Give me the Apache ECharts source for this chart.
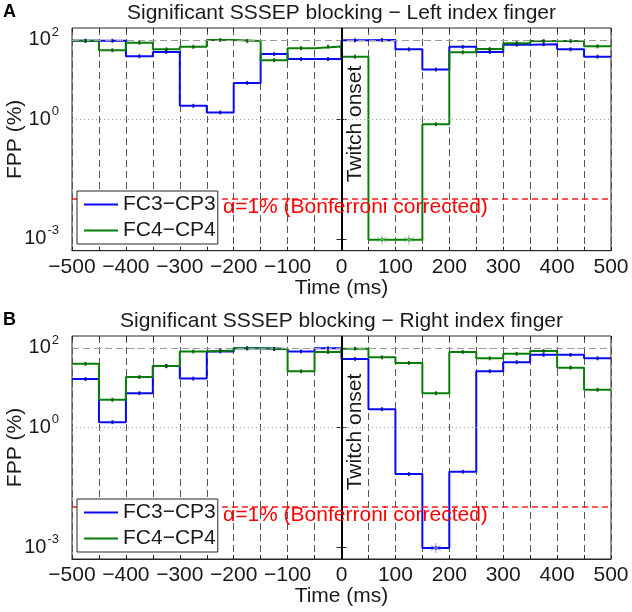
<!DOCTYPE html>
<html><head><meta charset="utf-8">
<script src="https://cdn.jsdelivr.net/npm/echarts@6/dist/echarts.min.js"></script>
<style>html,body{margin:0;padding:0;background:#fff}#c{width:632px;height:612px}</style>
</head><body><div id="c"></div>
<script>
const binCenters = [-475,-425,-375,-325,-275,-225,-175,-125,-75,-25,25,75,125,175,225,275,325,375,425,475];
const fc3Left  = [95,95,39,50,2.2,1.5,8.3,44,33,33,98,100,58,18,67,50,76,78,58,38];
const fc4Left  = [95,55,85,58,67,100,94,31,62,68,38,0.00095,0.00095,0.76,49,59,83,94,94,69];
const fc3Right = [16.5,1.37,7.3,35,17,82,98,94,82,98,53,2.9,0.068,0.00095,0.078,26,44,67,67,55];
const fc4Right = [40,5.0,18.6,35,81,86,98,94,26,79,96,58,42,7.3,79,55,71,84,32,8.9];
const alphaLevel = 0.0125;
const yTickValues = [0.001, 1, 100];
const titles = ['Significant SSSEP blocking \u2212 Left index finger','Significant SSSEP blocking \u2212 Right index finger'];
const panelLetters = ['A','B'];
const seriesNames = ['FC3\u2212CP3','FC4\u2212CP4'];
const binWidth = 50;

const FONT = 'Liberation Sans, Arial, sans-serif';
const TXT = '#1a1a1a';
const BLUE = '#0b0bf2', GREEN = '#0a7d0a';
const BLUE_LIGHT = '#7b7bff', GREEN_LIGHT = '#6fd06f';
const grids = [{left:72, width:539, top:28, height:222.7},{left:72, width:539, top:336, height:223}];

function stepData(vals){
  const d = binCenters.map((c,i)=>[c-binWidth/2, vals[i]]);
  d.push([binCenters[binCenters.length-1]+binWidth/2, vals[vals.length-1]]);
  return d;
}
function centers(vals){ return binCenters.map((c,i)=>[c, vals[i]]); }
function sig(vals){ return binCenters.map((c,i)=>[c, vals[i]]).filter(p=>p[1] < alphaLevel); }

const asterisk = 'path://M0,-5L0,5M-4.3,-2.5L4.3,2.5M-4.3,2.5L4.3,-2.5';
const tickStyle = {color:'#262626', width:1};

const xAxes = [], yAxes = [], series = [], legends = [], graphics = [];
const panels = [[fc3Left, fc4Left],[fc3Right, fc4Right]];
panels.forEach((pair, gi) => {
  xAxes.push({
    gridIndex: gi, type:'value', min:-500, max:500, interval:100, position:'bottom',
    name:'Time (ms)', nameLocation:'middle', nameGap:27, nameMoveOverlap:false,
    nameTextStyle:{fontFamily:FONT, fontSize:21, color:TXT},
    axisLine:{show:true, onZero:false, lineStyle:tickStyle},
    axisTick:{show:true, inside:true, length:4, lineStyle:tickStyle},
    minorTick:{show:true, splitNumber:2, length:4, lineStyle:tickStyle},
    axisLabel:{fontFamily:FONT, fontSize:21, color:TXT, margin:6,
      formatter: v => String(v).replace('-', '\u2212')},
    splitLine:{show:true, lineStyle:{color:'#555', type:[7,4], width:1}},
    minorSplitLine:{show:true, lineStyle:{color:'#555', type:[7,4], width:1}}
  });
  yAxes.push({
    gridIndex: gi, type:'log', logBase:10, min:Math.pow(10,-3.3), max:Math.pow(10,2.3), position:'left',
    name:'FPP (%)', nameLocation:'middle', nameGap:46, nameRotate:90, nameMoveOverlap:false,
    nameTextStyle:{fontFamily:FONT, fontSize:21, color:TXT},
    axisLine:{show:true, lineStyle:tickStyle},
    axisTick:{show:true, inside:true, length:5, customValues: yTickValues, lineStyle:tickStyle},
    axisLabel:{customValues: yTickValues, margin:13, fontFamily:FONT,
      formatter: v => '{b|10}{s|' + Math.round(Math.log10(v)) + '}',
      rich:{ b:{fontFamily:FONT, fontSize:20, color:TXT},
             s:{fontFamily:FONT, fontSize:13, color:TXT, padding:[0,0,16,1]} }},
    splitLine:{show:false}
  });
  const [a, b] = pair;
  series.push({
    name: seriesNames[0], type:'line', xAxisIndex:gi, yAxisIndex:gi, step:'end',
    data: stepData(a), showSymbol:false, lineStyle:{color:BLUE, width:2}, itemStyle:{color:BLUE},
    z:3, animation:false,
    markLine:{silent:true, symbol:'none', animation:false, label:{show:false},
      data:[
        {yAxis:100, lineStyle:{color:'#9a9a9a', type:[7,4], width:1}},
        {yAxis:1, lineStyle:{color:'#9a9a9a', type:[1,3], width:1}},
        {yAxis:0.001, lineStyle:{color:'#9a9a9a', type:[7,4], width:1}},
        {yAxis:alphaLevel, lineStyle:{color:'#ff1a1a', type:[6,4], width:1.5}},
        {xAxis:0, lineStyle:{color:'#000', type:'solid', width:2}}
      ]}
  });
  series.push({
    name: seriesNames[1], type:'line', xAxisIndex:gi, yAxisIndex:gi, step:'end',
    data: stepData(b), showSymbol:false, lineStyle:{color:GREEN, width:2}, itemStyle:{color:GREEN},
    z:4, animation:false
  });
  series.push({type:'scatter', xAxisIndex:gi, yAxisIndex:gi, data:centers(a), symbol:'rect', symbolSize:[2,4],
    itemStyle:{color:'#0000a0'}, z:5, silent:true, animation:false});
  series.push({type:'scatter', xAxisIndex:gi, yAxisIndex:gi, data:centers(b), symbol:'rect', symbolSize:[2,4],
    itemStyle:{color:'#004d00'}, z:6, silent:true, animation:false});
  series.push({type:'scatter', xAxisIndex:gi, yAxisIndex:gi, data:sig(a), symbol:asterisk, symbolSize:10,
    itemStyle:{color:'none', borderColor:BLUE_LIGHT, borderWidth:1}, z:7, silent:true, animation:false});
  series.push({type:'scatter', xAxisIndex:gi, yAxisIndex:gi, data:sig(b), symbol:asterisk, symbolSize:10,
    itemStyle:{color:'none', borderColor:GREEN_LIGHT, borderWidth:1}, z:7, silent:true, animation:false});

  const g = grids[gi];
  legends.push({
    data: seriesNames, orient:'vertical', left: 77, top: g.top + 163,
    icon:'rect', itemWidth:34, itemHeight:2, itemGap:5,
    padding:[3,2,3,7], backgroundColor:'#fff', borderColor:'#262626', borderWidth:1, borderRadius:0,
    textStyle:{fontFamily:FONT, fontSize:21, color:TXT}, selectedMode:false, z:20
  });
  graphics.push({type:'text', left:223, top:g.top + 169, z:30,
    style:{text:'\u03b1=1% (Bonferroni corrected)', font:'21px ' + FONT, fill:'#ff0000'}});
  graphics.push({type:'text', x:355, y:g.top + 96, rotation:Math.PI/2, z:30,
    style:{text:'Twitch onset', font:'21px ' + FONT, fill:TXT, align:'center', verticalAlign:'middle'}});
  graphics.push({type:'text', x:341.5, y:g.top - 15, z:30,
    style:{text:titles[gi], font:'21px ' + FONT, fill:TXT, align:'center', verticalAlign:'middle'}});
  graphics.push({type:'text', x:3, y:g.top - 16, z:30,
    style:{text:panelLetters[gi], font:'bold 18px ' + FONT, fill:'#000', verticalAlign:'middle'}});
});
// mirrored box ticks (top and right), no labels
panels.forEach((p, gi) => {
  xAxes.push({gridIndex:gi, type:'value', min:-500, max:500, interval:100, position:'top',
    axisLine:{show:false}, axisLabel:{show:false}, splitLine:{show:false},
    axisTick:{show:true, inside:true, length:4, lineStyle:tickStyle},
    minorTick:{show:true, splitNumber:2, length:4, lineStyle:tickStyle}});
  yAxes.push({gridIndex:gi, type:'log', logBase:10, min:Math.pow(10,-3.3), max:Math.pow(10,2.3), position:'right',
    axisLine:{show:false}, axisLabel:{show:false}, splitLine:{show:false},
    axisTick:{show:true, inside:true, length:5, customValues: yTickValues, lineStyle:tickStyle}});
});

const chart = echarts.init(document.getElementById('c'), null, {renderer:'canvas'});
chart.setOption({
  animation:false,
  backgroundColor:'#fff',
  grid: grids.map(g => Object.assign({show:true, borderColor:'#262626', borderWidth:1, backgroundColor:'transparent',
    containLabel:false, outerBoundsMode:'none'}, g)),
  xAxis: xAxes, yAxis: yAxes, series: series, legend: legends, graphic: graphics
});
</script></body></html>
